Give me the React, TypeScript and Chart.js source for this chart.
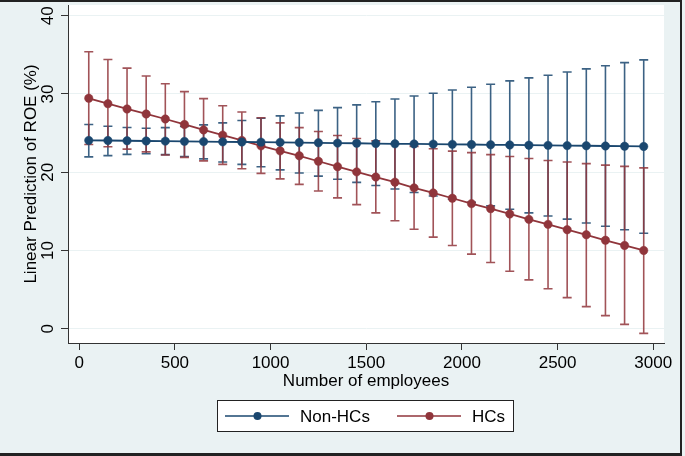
import React, { useEffect, useRef } from "react";
import { Chart, registerables } from "chart.js";

Chart.register(...registerables);

// ---- data ----
const employees = [50, 150, 250, 350, 450, 550, 650, 750, 850, 950, 1050, 1150, 1250, 1350, 1450, 1550, 1650, 1750, 1850, 1950, 2050, 2150, 2250, 2350, 2450, 2550, 2650, 2750, 2850, 2950];

const nonHCs = [24.06, 24.05, 24.02, 23.99, 23.97, 23.94, 23.91, 23.88, 23.86, 23.84, 23.81, 23.79, 23.76, 23.72, 23.7, 23.66, 23.63, 23.61, 23.59, 23.56, 23.54, 23.5, 23.48, 23.45, 23.43, 23.4, 23.38, 23.35, 23.32, 23.29];
const nonHCsUpper = [26.1, 25.88, 25.72, 25.62, 25.7, 25.85, 26.05, 26.3, 26.6, 26.9, 27.2, 27.56, 27.9, 28.25, 28.6, 29.0, 29.36, 29.74, 30.1, 30.5, 30.85, 31.24, 31.67, 32.05, 32.4, 32.8, 33.2, 33.6, 34.0, 34.36];
const nonHCsLower = [21.96, 22.12, 22.28, 22.36, 22.25, 22.0, 21.7, 21.3, 21.0, 20.7, 20.3, 19.9, 19.5, 19.1, 18.7, 18.3, 17.85, 17.4, 16.96, 16.55, 16.15, 15.7, 15.26, 14.8, 14.4, 14.0, 13.5, 13.1, 12.65, 12.2];

const hcs = [29.45, 28.76, 28.08, 27.44, 26.8, 26.1, 25.4, 24.74, 24.06, 23.37, 22.73, 22.1, 21.4, 20.7, 20.04, 19.38, 18.72, 18.0, 17.35, 16.67, 15.98, 15.34, 14.66, 13.97, 13.33, 12.65, 12.0, 11.3, 10.64, 10.0];
const hcsUpper = [35.4, 34.4, 33.3, 32.3, 31.3, 30.3, 29.4, 28.5, 27.7, 26.96, 26.3, 25.7, 25.2, 24.7, 24.3, 24.0, 23.6, 23.3, 23.0, 22.7, 22.5, 22.25, 22.0, 21.75, 21.5, 21.3, 21.1, 20.9, 20.75, 20.55];
const hcsLower = [23.55, 23.25, 22.95, 22.6, 22.2, 21.9, 21.45, 21.0, 20.45, 19.85, 19.15, 18.45, 17.6, 16.72, 15.85, 14.8, 13.8, 12.7, 11.7, 10.64, 9.53, 8.46, 7.35, 6.24, 5.1, 3.97, 2.82, 1.67, 0.55, -0.6];

const xTicks = [0, 500, 1000, 1500, 2000, 2500, 3000];
const yTicks = [0, 10, 20, 30, 40];

const seriesNames = ["Non-HCs", "HCs"];
const xTitle = "Number of employees";
const yTitle = "Linear Prediction of ROE (%)";

const NAVY = "#1a476f";
const MAROON = "#90353b";
const NAVY_CI = "rgba(26,71,111,0.85)";
const MAROON_CI = "rgba(144,53,59,0.85)";
const BG = "#eaf2f3";
const AXIS = "#333333";
const FONT = "'Liberation Sans', Arial, sans-serif";

export default function App() {
  const ref = useRef<HTMLCanvasElement>(null);

  useEffect(() => {
    document.body.style.margin = "0";
    const canvas = ref.current;
    if (!canvas) return;

    const bgPlugin = {
      id: "bgPlugin",
      beforeDraw(chart: any) {
        const { ctx, chartArea } = chart;
        ctx.save();
        ctx.fillStyle = BG;
        ctx.fillRect(0, 0, chart.width, chart.height);
        ctx.fillStyle = "#ffffff";
        ctx.fillRect(chartArea.left, chartArea.top, chartArea.right - chartArea.left, chartArea.bottom - chartArea.top);
        ctx.restore();
      },
    };

    const ciPlugin = {
      id: "ciPlugin",
      beforeDatasetsDraw(chart: any) {
        const { ctx } = chart;
        const xs = chart.scales.x;
        const ys = chart.scales.y;
        ctx.save();
        ctx.lineWidth = 1.6;
        chart.data.datasets.forEach((ds: any) => {
          ctx.strokeStyle = ds.ciColor;
          ds.data.forEach((pt: any, i: number) => {
            const px = xs.getPixelForValue(pt.x);
            const pl = ys.getPixelForValue(ds.lower[i]);
            const pu = ys.getPixelForValue(ds.upper[i]);
            ctx.beginPath();
            ctx.moveTo(px, pl);
            ctx.lineTo(px, pu);
            ctx.moveTo(px - 4.5, pl);
            ctx.lineTo(px + 4.5, pl);
            ctx.moveTo(px - 4.5, pu);
            ctx.lineTo(px + 4.5, pu);
            ctx.stroke();
          });
        });
        ctx.restore();
      },
    };

    const decoPlugin = {
      id: "decoPlugin",
      afterDraw(chart: any) {
        const { ctx } = chart;
        const ys = chart.scales.y;
        ctx.save();
        // rotated y tick labels
        ctx.fillStyle = "#000";
        ctx.font = `17px ${FONT}`;
        ctx.textAlign = "center";
        ctx.textBaseline = "middle";
        yTicks.forEach((v) => {
          const py = ys.getPixelForValue(v);
          ctx.save();
          ctx.translate(47.5, py);
          ctx.rotate(-Math.PI / 2);
          ctx.fillText(String(v), 0, 1);
          ctx.restore();
        });

        // legend
        const lx = 217.5, ly = 400.5, lw = 296, lh = 31;
        ctx.fillStyle = "#fff";
        ctx.fillRect(lx, ly, lw, lh);
        ctx.strokeStyle = "#222";
        ctx.lineWidth = 1;
        ctx.strokeRect(lx, ly, lw, lh);
        const cy = ly + lh / 2;
        const starts = [225, 397];
        ctx.textAlign = "left";
        ctx.textBaseline = "middle";
        chart.data.datasets.forEach((ds: any, i: number) => {
          const s = starts[i];
          ctx.strokeStyle = ds.borderColor;
          ctx.lineWidth = 1.6;
          ctx.beginPath();
          ctx.moveTo(s, cy);
          ctx.lineTo(s + 64, cy);
          ctx.stroke();
          ctx.fillStyle = ds.borderColor;
          ctx.beginPath();
          ctx.arc(s + 32.5, cy, 4, 0, Math.PI * 2);
          ctx.fill();
          ctx.fillStyle = "#000";
          ctx.fillText(ds.label, s + 75, cy + 1);
        });

        // outer frame (top, right, bottom)
        ctx.fillStyle = "#222";
        ctx.fillRect(0, 0, 682, 2);
        ctx.fillRect(680, 0, 2, 456);
        ctx.fillRect(0, 453, 682, 3);
        ctx.restore();
      },
    };

    const chart = new Chart(canvas, {
      type: "line",
      data: {
        datasets: [
          {
            label: seriesNames[0],
            data: employees.map((x, i) => ({ x, y: nonHCs[i] })),
            upper: nonHCsUpper,
            lower: nonHCsLower,
            ciColor: NAVY_CI,
            borderColor: NAVY,
            backgroundColor: NAVY,
            borderWidth: 1.8,
            pointRadius: 4.2,
            pointBorderWidth: 0.5,
            pointBackgroundColor: NAVY,
            pointBorderColor: NAVY,
            tension: 0,
          } as any,
          {
            label: seriesNames[1],
            data: employees.map((x, i) => ({ x, y: hcs[i] })),
            upper: hcsUpper,
            lower: hcsLower,
            ciColor: MAROON_CI,
            borderColor: MAROON,
            backgroundColor: MAROON,
            borderWidth: 1.8,
            pointRadius: 4.2,
            pointBorderWidth: 0.5,
            pointBackgroundColor: MAROON,
            pointBorderColor: MAROON,
            tension: 0,
          } as any,
        ],
      },
      options: {
        animation: false,
        responsive: false,
        devicePixelRatio: 1,
        layout: { padding: { left: 0, top: 5, right: 21, bottom: 0 } },
        plugins: {
          legend: { display: false },
          tooltip: { enabled: false },
        },
        font: { family: FONT, size: 17 },
        scales: {
          x: {
            type: "linear",
            min: -58.5,
            max: 3056,
            afterBuildTicks: (s: any) => {
              s.ticks = xTicks.map((v) => ({ value: v }));
            },
            afterFit: (s: any) => {
              s.height = 113;
            },
            grid: {
              display: true,
              drawOnChartArea: false,
              drawTicks: true,
              tickLength: 7,
              tickColor: AXIS,
              tickWidth: 1,
            },
            border: { display: true, color: AXIS, width: 1 },
            ticks: {
              color: "#000",
              font: { family: FONT, size: 17 },
              padding: 3,
              maxRotation: 0,
              autoSkip: false,
              callback: (v: any) => String(v),
            },
            title: {
              display: true,
              text: xTitle,
              color: "#000",
              font: { family: FONT, size: 17 },
              padding: { top: 0, bottom: 64.8 },
            },
          },
          y: {
            type: "linear",
            min: -1.83,
            max: 41.37,
            afterBuildTicks: (s: any) => {
              s.ticks = yTicks.map((v) => ({ value: v }));
            },
            afterFit: (s: any) => {
              s.width = 68;
            },
            grid: {
              display: true,
              drawOnChartArea: true,
              color: BG,
              lineWidth: 1,
              drawTicks: true,
              tickLength: 7,
              tickColor: AXIS,
              tickWidth: 1,
            },
            border: { display: true, color: AXIS, width: 1 },
            ticks: { display: false },
            title: {
              display: true,
              text: yTitle,
              color: "#000",
              font: { family: FONT, size: 17 },
              padding: { top: 21.3, bottom: 0 },
            },
          },
        },
      } as any,
      plugins: [bgPlugin, ciPlugin, decoPlugin],
    });

    return () => {
      chart.destroy();
    };
  }, []);

  return (
    <div style={{ width: 685, height: 456 }}>
      <canvas ref={ref} width={685} height={456} style={{ display: "block" }} />
    </div>
  );
}
